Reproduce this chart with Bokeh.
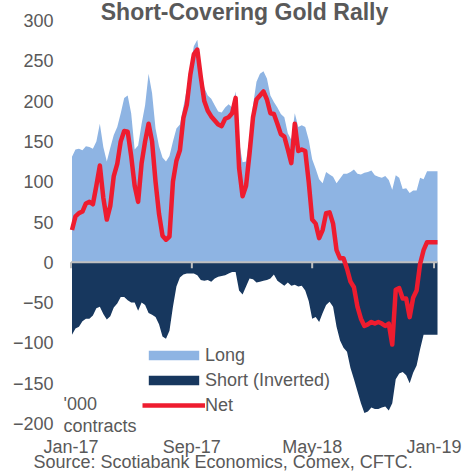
import pandas as pd
from bokeh.plotting import figure
from bokeh.models import (FixedTicker, DatetimeTickFormatter, Legend,
                          LegendItem, Label, Range1d)
from bokeh.embed import file_html
from bokeh.resources import INLINE

# ---- data ('000 contracts, weekly COT reports) ----
first_week = "2017-01-03"
long_pos = [131, 140, 141, 139, 144, 143, 141, 150, 172, 143,
            125, 142, 158, 168, 185, 204, 207, 185, 140, 145,
            172, 195, 234, 210, 166, 144, 130, 125, 132, 150,
            166, 171, 193, 215, 243, 268, 276, 242, 217, 207,
            203, 195, 187, 186, 192, 196, 192, 212, 150, 124,
            125, 155, 195, 224, 234, 237, 228, 207, 199, 192,
            184, 180, 160, 152, 185, 168, 170, 168, 152, 128,
            116, 103, 98, 112, 109, 106, 98, 104, 110, 110,
            112, 115, 110, 109, 111, 112, 114, 108, 106, 105,
            107, 102, 90, 108, 105, 91, 92, 86, 89, 89,
            105, 103, 113, 113, 113, 113]
short_pos = [-90, -82, -80, -73, -70, -70, -66, -57, -55, -64,
             -71, -67, -56, -51, -43, -43, -47, -50, -50, -60,
             -50, -53, -63, -65, -68, -77, -92, -95, -85, -55,
             -30, -19, -15, -14, -14, -14, -16, -22, -23, -22,
             -24, -20, -18, -17, -16, -14, -12, -12, -35, -40,
             -30, -20, -21, -25, -24, -23, -22, -20, -15, -23,
             -26, -29, -25, -29, -28, -30, -29, -35, -48, -70,
             -68, -74, -63, -53, -49, -55, -80, -97, -106, -111,
             -131, -145, -160, -175, -187, -185, -180, -182, -182, -180,
             -179, -184, -175, -145, -138, -136, -140, -150, -137, -128,
             -108, -90, -90, -90, -90, -90]
net_pos = [40, 57, 61, 63, 73, 75, 72, 95, 120, 80,
           53, 70, 107, 122, 150, 163, 162, 132, 95, 75,
           123, 150, 172, 150, 100, 60, 33, 28, 32, 100,
           126, 139, 179, 196, 233, 258, 264, 230, 200, 188,
           181, 176, 171, 169, 178, 180, 185, 204, 117, 82,
           95, 135, 180, 202, 207, 212, 202, 185, 184, 172,
           159, 156, 140, 123, 172, 138, 140, 138, 100, 53,
           48, 30, 40, 61, 62, 48, 15, 5, 5, -8,
           -24, -31, -55, -70, -79, -77, -74, -76, -74, -76,
           -79, -76, -102, -34, -32, -45, -45, -68, -44, -35,
           -2, 15, 25, 25, 25, 25]
x_tick_dates = ["2017-01-01", "2017-09-01", "2018-05-01", "2019-01-01"]
y_ticks = [-200, -150, -100, -50, 0, 50, 100, 150, 200, 250, 300]
series_labels = ["Long", "Short (Inverted)", "Net"]
title_text = "Short-Covering Gold Rally"
unit_text = ["'000", "contracts"]
source_text = "Source: Scotiabank Economics, Comex, CFTC."

dates = pd.date_range(first_week, periods=len(long_pos), freq="7D")


def ms(d):
    return pd.Timestamp(d).value / 1e6


# ---- layout: the frame fills the whole canvas; axes are pinned inside it ----
W, H = 464, 472
X0_PX = 70.5                       # pixel of 1 Jan 2017
MS_PER_PX = 86400000 / 0.4973      # horizontal scale
ZERO_PX, UNIT_PX = 261.8, 0.806    # pixel of y=0, pixels per '000 contracts
x_start = ms(x_tick_dates[0]) - X0_PX * MS_PER_PX
x_end = x_start + W * MS_PER_PX
y_top = ZERO_PX / UNIT_PX
y_bottom = y_top - H / UNIT_PX


def px_x(px):
    return x_start + px * MS_PER_PX


def px_y(py):
    return y_top - py / UNIT_PX


FONT = "Liberation Sans"
GREY = "#595959"
LONG_C = "#8EB4E3"
SHORT_C = "#17375E"
NET_C = "#EE1C2F"
AXIS_C = "#BFBFBF"

p = figure(width=W, height=H, output_backend="svg", toolbar_location=None,
           x_axis_type="datetime",
           x_range=Range1d(x_start, x_end), y_range=Range1d(y_bottom, y_top),
           min_border_left=0, min_border_right=0, min_border_top=0,
           min_border_bottom=0)
p.outline_line_color = None
p.xgrid.visible = False
p.ygrid.visible = False

r_long = p.varea(x=dates, y1=0, y2=long_pos, fill_color=LONG_C)
r_short = p.varea(x=dates, y1=short_pos, y2=0, fill_color=SHORT_C)

# zero line with its tick marks
tick_ms = [ms(d) for d in x_tick_dates]
p.segment(x0=tick_ms[0], x1=dates[-1], y0=0, y1=0, line_color=AXIS_C, line_width=2)
p.segment(x0=tick_ms, x1=tick_ms, y0=0, y1=-7.5, line_color=AXIS_C, line_width=2)

r_net = p.line(x=dates, y=net_pos, line_color=NET_C, line_width=4.5, line_join="round")

fmt = DatetimeTickFormatter(days="%b-%y", months="%b-%y", years="%b-%y",
                            hours="%b-%y", minutes="%b-%y", seconds="%b-%y")

xa = p.xaxis[0]
xa.fixed_location = y_ticks[0]
xa.ticker = FixedTicker(ticks=tick_ms)
xa.formatter = fmt
xa.axis_line_color = None
xa.major_tick_line_color = None
xa.minor_tick_line_color = None
xa.major_tick_out = 0
xa.major_label_standoff = 13
xa.major_label_text_font = FONT
xa.major_label_text_font_size = "18px"
xa.major_label_text_color = GREY

ya = p.yaxis[0]
ya.fixed_location = px_x(70)
ya.ticker = FixedTicker(ticks=y_ticks)
ya.axis_line_color = None
ya.major_tick_line_color = None
ya.minor_tick_line_color = None
ya.major_tick_out = 0
ya.major_label_standoff = 17
ya.major_label_text_font = FONT
ya.major_label_text_font_size = "18px"
ya.major_label_text_color = GREY

legend = Legend(items=[LegendItem(label=series_labels[0], renderers=[r_long]),
                       LegendItem(label=series_labels[1], renderers=[r_short]),
                       LegendItem(label=series_labels[2], renderers=[r_net])],
                location=(142, 56), padding=0, margin=0, spacing=3,
                glyph_width=63, glyph_height=12, label_height=22, label_standoff=0,
                label_text_font=FONT, label_text_font_size="18px",
                label_text_color=GREY, border_line_color=None,
                background_fill_alpha=0)
p.add_layout(legend)

p.add_layout(Label(x=px_x(244), y=px_y(11), text=title_text, text_align="center",
                   text_baseline="middle", text_font=FONT, text_font_size="23px",
                   text_font_style="bold", text_color=GREY))
p.add_layout(Label(x=px_x(63), y=px_y(403), text=unit_text[0], text_align="left",
                   text_baseline="middle", text_font=FONT, text_font_size="18px",
                   text_color=GREY))
p.add_layout(Label(x=px_x(63), y=px_y(425), text=unit_text[1], text_align="left",
                   text_baseline="middle", text_font=FONT, text_font_size="18px",
                   text_color=GREY))
p.add_layout(Label(x=px_x(33), y=px_y(461), text=source_text, text_align="left",
                   text_baseline="middle", text_font=FONT, text_font_size="18px",
                   text_color=GREY))

open("out.html", "w").write(file_html(p, INLINE))
